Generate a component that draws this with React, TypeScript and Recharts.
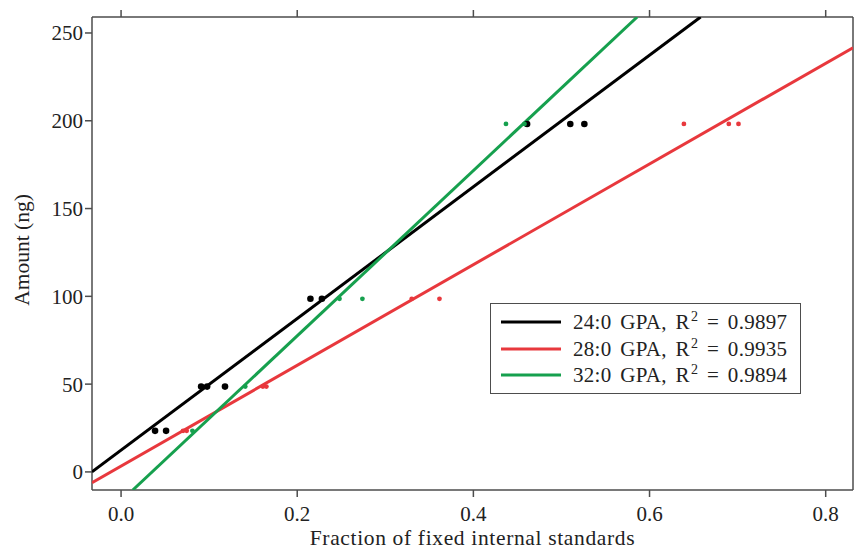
import React from 'react';
import { ScatterChart, Scatter, XAxis, YAxis, Legend, Label } from 'recharts';

const FONT = '"Liberation Serif", "Times New Roman", serif';
const FRAME = '#4d4d4d';
const TEXT = '#222';

const X_TICKS = [0, 0.2, 0.4, 0.6, 0.8];
const Y_TICKS = [0, 50, 100, 150, 200, 250];
const X_DOMAIN: [number, number] = [-0.033, 0.831];
const Y_DOMAIN: [number, number] = [-10.3, 259.1];

const X_LABEL = 'Fraction of fixed internal standards';
const Y_LABEL = 'Amount (ng)';

// measured points (fraction, amount)
const GPA24_POINTS = [
  { x: 0.0386, y: 23.4 }, { x: 0.0511, y: 23.4 },
  { x: 0.0909, y: 48.6 }, { x: 0.0977, y: 48.6 }, { x: 0.118, y: 48.6 },
  { x: 0.215, y: 98.6 }, { x: 0.228, y: 98.6 },
  { x: 0.461, y: 198.2 }, { x: 0.51, y: 198.2 }, { x: 0.526, y: 198.2 },
];
const GPA28_POINTS = [
  { x: 0.0704, y: 23.4 }, { x: 0.0745, y: 23.4 },
  { x: 0.161, y: 48.6 }, { x: 0.165, y: 48.6 },
  { x: 0.33, y: 98.6 }, { x: 0.3615, y: 98.6 },
  { x: 0.639, y: 198.2 }, { x: 0.69, y: 198.2 }, { x: 0.701, y: 198.2 },
];
const GPA32_POINTS = [
  { x: 0.081, y: 23.4 },
  { x: 0.141, y: 48.6 },
  { x: 0.248, y: 98.6 }, { x: 0.274, y: 98.6 },
  { x: 0.437, y: 198.2 }, { x: 0.458, y: 198.2 },
];

// regression line end points (where each fit meets the plot frame)
const GPA24_FIT = [{ x: -0.033, y: 0 }, { x: 0.658, y: 259.1 }];
const GPA28_FIT = [{ x: -0.033, y: -6.1 }, { x: 0.831, y: 241.6 }];
const GPA32_FIT = [{ x: 0.0133, y: -10.3 }, { x: 0.586, y: 259.1 }];

const SERIES_NAMES = ['24:0 GPA', '28:0 GPA', '32:0 GPA'];
const R2_VALUES = ['0.9897', '0.9935', '0.9894'];
const COLORS = ['#000000', '#e8383d', '#16a04e'];

const EmptyShape = () => <g />;
const makeDot = (r: number, color: string) => (props: any) =>
  <circle cx={props.cx} cy={props.cy} r={r} fill={color} />;

const LegendBox = () => (
  <div
    style={{
      width: 311,
      height: 91,
      border: `1.5px solid ${FRAME}`,
      background: '#fff',
      boxSizing: 'border-box',
      paddingTop: 5,
      fontFamily: FONT,
      fontSize: 21,
      color: TEXT,
    }}
  >
    {SERIES_NAMES.map((n, i) => (
      <div key={n} style={{ display: 'flex', alignItems: 'center', height: 26.5 }}>
        <svg width={60} height={4} style={{ marginLeft: 10, flex: 'none' }}>
          <line x1={0} y1={2} x2={60} y2={2} stroke={COLORS[i]} strokeWidth={3} />
        </svg>
        <span style={{ marginLeft: 12, whiteSpace: 'nowrap', lineHeight: '26px', wordSpacing: 3.2, letterSpacing: 0.3 }}>
          {n}, R<sup style={{ fontSize: 14, lineHeight: 0, verticalAlign: 'baseline', position: 'relative', top: -8, marginLeft: 1 }}>2</sup> = {R2_VALUES[i]}
        </span>
      </div>
    ))}
  </div>
);

export default function App() {
  const tickStyle = { fill: TEXT, fontSize: 21, fontFamily: FONT };
  return (
    <div style={{ position: 'absolute', left: 0, top: 0, width: 854, height: 550, background: '#fff' }}>
      <ScatterChart width={854} height={550} margin={{ top: 0, right: 0, bottom: 0, left: 0 }}>
        <XAxis
          xAxisId="bottom"
          type="number"
          dataKey="x"
          domain={X_DOMAIN}
          ticks={X_TICKS}
          allowDataOverflow
          height={60}
          tickSize={7}
          tickMargin={9}
          tickFormatter={(v: number) => v.toFixed(1)}
          tick={tickStyle}
          tickLine={{ stroke: FRAME, strokeWidth: 1.5 }}
          axisLine={{ stroke: FRAME, strokeWidth: 1.5 }}
        >
          <Label
            value={X_LABEL}
            position="insideBottom"
            offset={5}
            style={{ fill: TEXT, fontSize: 21.5, fontFamily: FONT, letterSpacing: 0.65 }}
          />
        </XAxis>
        <XAxis
          xAxisId="top"
          orientation="top"
          type="number"
          dataKey="x"
          domain={X_DOMAIN}
          ticks={X_TICKS}
          allowDataOverflow
          height={17}
          tickSize={7}
          tickFormatter={() => ''}
          tickLine={{ stroke: FRAME, strokeWidth: 1.5 }}
          axisLine={{ stroke: FRAME, strokeWidth: 1.5 }}
        />
        <YAxis
          yAxisId="left"
          type="number"
          dataKey="y"
          domain={Y_DOMAIN}
          ticks={Y_TICKS}
          allowDataOverflow
          width={92}
          tickSize={7}
          tickMargin={2}
          tick={tickStyle}
          tickLine={{ stroke: FRAME, strokeWidth: 1.5 }}
          axisLine={{ stroke: FRAME, strokeWidth: 1.5 }}
        >
          <Label
            content={() => (
              <text
                x={29}
                y={250}
                transform="rotate(-90 29 250)"
                textAnchor="middle"
                fill={TEXT}
                fontSize={21.5}
                fontFamily={FONT}
              >
                {Y_LABEL}
              </text>
            )}
          />
        </YAxis>
        <YAxis
          yAxisId="right"
          orientation="right"
          type="number"
          domain={Y_DOMAIN}
          allowDataOverflow
          width={1}
          tick={false}
          tickLine={false}
          axisLine={{ stroke: FRAME, strokeWidth: 1.5 }}
        />
        <Legend
          layout="horizontal"
          verticalAlign="middle"
          align="center"
          wrapperStyle={{ left: 490, top: 303, width: 311 }}
          content={() => <LegendBox />}
        />
        <Scatter xAxisId="bottom" yAxisId="left" name="f24" data={GPA24_FIT} line={{ stroke: COLORS[0], strokeWidth: 3 }} lineType="joint" shape={EmptyShape} isAnimationActive={false} legendType="none" />
        <Scatter xAxisId="bottom" yAxisId="left" name="f28" data={GPA28_FIT} line={{ stroke: COLORS[1], strokeWidth: 3 }} lineType="joint" shape={EmptyShape} isAnimationActive={false} legendType="none" />
        <Scatter xAxisId="bottom" yAxisId="left" name="f32" data={GPA32_FIT} line={{ stroke: COLORS[2], strokeWidth: 3 }} lineType="joint" shape={EmptyShape} isAnimationActive={false} legendType="none" />
        <Scatter xAxisId="bottom" yAxisId="left" name={SERIES_NAMES[0]} data={GPA24_POINTS} shape={makeDot(3.3, COLORS[0])} isAnimationActive={false} />
        <Scatter xAxisId="bottom" yAxisId="left" name={SERIES_NAMES[1]} data={GPA28_POINTS} shape={makeDot(2.4, COLORS[1])} isAnimationActive={false} />
        <Scatter xAxisId="bottom" yAxisId="left" name={SERIES_NAMES[2]} data={GPA32_POINTS} shape={makeDot(2.4, COLORS[2])} isAnimationActive={false} />
      </ScatterChart>
    </div>
  );
}
